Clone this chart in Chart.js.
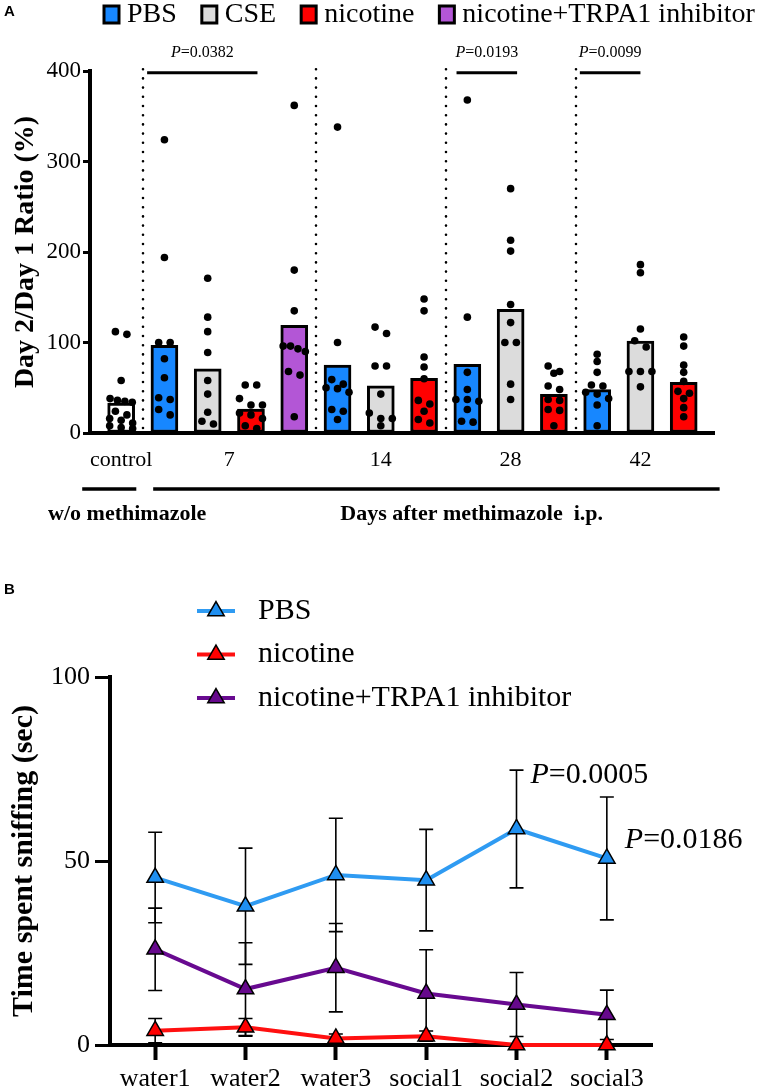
<!DOCTYPE html>
<html><head><meta charset="utf-8">
<script src="https://cdn.jsdelivr.net/npm/chart.js@4.4.1/dist/chart.umd.min.js"></script>
<style>
html,body{margin:0;padding:0;background:#fff;width:758px;height:1090px;overflow:hidden}
#a{position:absolute;left:0;top:0}
#b{position:absolute;left:0;top:555px}
</style></head><body>
<canvas id="a" width="758" height="550"></canvas>
<canvas id="b" width="758" height="535"></canvas>
<script>
// ---------------- Panel A data ----------------
const groupNames = ['control', '7', '14', '28', '42'];
const barGroups = ['control','7','7','7','7','14','14','14','28','28','28','42','42','42'];
const barTreatments = ['control','PBS','CSE','nicotine','nicotine+TRPA1 inhibitor','PBS','CSE','nicotine','PBS','CSE','nicotine','PBS','CSE','nicotine'];
const barMeans = [33, 97, 71, 26.5, 119, 75, 52, 60.4, 76, 136.6, 42.7, 48, 101.7, 56];
const legendA = ['PBS', 'CSE', 'nicotine', 'nicotine+TRPA1 inhibitor'];

const dotsControl = [112, 109, 58, 38, 36, 35, 34, 24, 20, 16, 14, 11, 8, 6, 5];
const dotsD7PBS   = [324, 194, 100, 100, 82, 61, 39, 37, 26, 20];
const dotsD7CSE   = [171, 128, 112, 89, 58, 43, 23, 13, 10];
const dotsD7Nic   = [53, 53, 38, 31, 31, 22, 20, 16, 8, 5];
const dotsD7Inh   = [362, 180, 135, 96, 96, 93, 90, 68, 64, 18];
const dotsD14PBS  = [338, 100, 59, 54, 50, 49, 45, 26, 24, 15];
const dotsD14CSE  = [117, 110, 74, 74, 43, 22, 16, 16, 8];
const dotsD14Nic  = [148, 135, 84, 73, 60, 36, 32, 24, 15, 11];
const dotsD28PBS  = [368, 128, 67, 48, 37, 37, 35, 26, 13, 12];
const dotsD28CSE  = [270, 213, 201, 142, 122, 100, 100, 54, 37];
const dotsD28Nic  = [74, 68, 66, 52, 48, 37, 36, 26, 25, 8];
const dotsD42PBS  = [87, 79, 67, 53, 52, 45, 43, 38, 31, 8];
const dotsD42CSE  = [186, 177, 115, 102, 95, 68, 68, 68, 51];
const dotsD42Nic  = [106, 96, 75, 67, 57, 46, 44, 38, 28, 18];
const yTicksA = [0, 100, 200, 300, 400];
const pValuesA = ['0.0382', '0.0193', '0.0099'];

// ---------------- Panel B data ----------------
const catsB = ['water1', 'water2', 'water3', 'social1', 'social2', 'social3'];
const seriesB = ['PBS', 'nicotine', 'nicotine+TRPA1 inhibitor'];
const pbsMean = [45.5, 37.7, 46.2, 44.8, 58.7, 50.7];
const pbsSem  = [12.3, 15.8, 15.4, 13.8, 16.0, 16.7];
const nicMean = [3.9, 4.8, 1.8, 2.4, 0, 0];
const nicSem  = [3.3, 2.4, 1.2, 1.4, 0, 0];
const inhMean = [26.0, 15.2, 21.0, 14.0, 11.0, 8.2];
const inhSem  = [11.2, 12.6, 12.0, 11.9, 8.7, 6.7];
const yTicksB = [0, 50, 100];
const pValuesB = [{cat: 'social2', p: '0.0005'}, {cat: 'social3', p: '0.0186'}];

// ---------------- styles / layout ----------------
const SERIF = '"Liberation Serif", "Times New Roman", serif';
const colA = {'control': '#ffffff', 'PBS': '#1787ff', 'CSE': '#dcdcdc', 'nicotine': '#ff0000', 'nicotine+TRPA1 inhibitor': '#b356d6'};
const colB = {'PBS': '#2f9bf2', 'nicotine': '#ff1010', 'nicotine+TRPA1 inhibitor': '#680a90'};
const fillB = {'PBS': '#1f8ff0', 'nicotine': '#ff0000', 'nicotine+TRPA1 inhibitor': '#66088c'};

const dotGroups = [dotsControl, dotsD7PBS, dotsD7CSE, dotsD7Nic, dotsD7Inh, dotsD14PBS, dotsD14CSE, dotsD14Nic,
                   dotsD28PBS, dotsD28CSE, dotsD28Nic, dotsD42PBS, dotsD42CSE, dotsD42Nic];

// Prism-like row scatter offsets (layout only)
const PX_PER_Y = 362 / 400, PX_PER_X = 43.3, DIAM = 7.6;
function swarm(vals, idx) {
  const sorted = vals.slice().sort((a, b) => b - a);
  const rows = [];
  sorted.forEach(v => {
    const r = rows[rows.length - 1];
    if (r && (r[0] - v) * PX_PER_Y < DIAM * 0.95) r.push(v); else rows.push([v]);
  });
  const out = [];
  rows.forEach(r => {
    const sp = r.length >= 4 ? 7.4 : 11.5;
    r.forEach((v, k) => {
      const off = (k - (r.length - 1) / 2) * sp * (k % 2 ? 1 : 1);
      out.push({x: idx + off / PX_PER_X, y: v});
    });
  });
  return out;
}
const dotData = [];
dotGroups.forEach((g, i) => dotData.push(...swarm(g, i)));

const groupCenters = groupNames.map(g => {
  const idx = barGroups.map((b, i) => b === g ? i : null).filter(v => v !== null);
  return idx.reduce((a, b) => a + b, 0) / idx.length;
});
const separators = [];
for (let i = 1; i < barGroups.length; i++) if (barGroups[i] !== barGroups[i - 1]) separators.push(i - 0.5);
const bracketSpans = [[0.6, 3.15], [7.75, 9.15], [10.6, 12.0]];

function drawPText(ctx, x, y, p, size, align) {
  ctx.textBaseline = 'middle';
  ctx.font = 'italic ' + size + 'px ' + SERIF;
  const w1 = ctx.measureText('P').width;
  ctx.font = size + 'px ' + SERIF;
  const w2 = ctx.measureText('=' + p).width;
  const x0 = align === 'center' ? x - (w1 + w2) / 2 : x;
  ctx.textAlign = 'left';
  ctx.font = 'italic ' + size + 'px ' + SERIF;
  ctx.fillText('P', x0, y);
  ctx.font = size + 'px ' + SERIF;
  ctx.fillText('=' + p, x0 + w1, y);
}

const overlayA = {
  id: 'overlayA',
  beforeDatasetsDraw(chart) {
    const {ctx, chartArea: ca, scales: {x}} = chart;
    ctx.save();
    ctx.strokeStyle = '#000'; ctx.lineWidth = 2.6; ctx.lineCap = 'round';
    ctx.setLineDash([0, 9.2]);
    separators.forEach(s => {
      const px = Math.round(x.getPixelForValue(s));
      ctx.beginPath(); ctx.moveTo(px, ca.bottom - 5); ctx.lineTo(px, ca.top - 2); ctx.stroke();
    });
    ctx.restore();
  },
  afterDraw(chart) {
    const {ctx, chartArea: ca, scales: {x, y}} = chart;
    ctx.save();
    ctx.fillStyle = '#000';
    ctx.font = 'bold 15px "Liberation Sans", Arial, sans-serif';
    ctx.textBaseline = 'middle'; ctx.textAlign = 'left';
    ctx.fillText('A', 4, 12);
    // legend
    let lx = 104;
    legendA.forEach(name => {
      ctx.fillStyle = colA[name];
      ctx.fillRect(lx, 6, 15, 17);
      ctx.lineWidth = 3; ctx.strokeStyle = '#000';
      ctx.strokeRect(lx, 6, 15, 17);
      ctx.fillStyle = '#000';
      ctx.font = '28px ' + SERIF; ctx.textBaseline = 'middle'; ctx.textAlign = 'left';
      ctx.fillText(name, lx + 23, 15);
      lx += 23 + ctx.measureText(name).width + 25;
    });
    // significance brackets
    const ly = y.getPixelForValue(398);
    bracketSpans.forEach((s, i) => {
      const x1 = x.getPixelForValue(s[0]), x2 = x.getPixelForValue(s[1]);
      ctx.lineWidth = 3; ctx.strokeStyle = '#000';
      ctx.beginPath(); ctx.moveTo(x1, ly); ctx.lineTo(x2, ly); ctx.stroke();
      drawPText(ctx, (x1 + x2) / 2, ly - 20, pValuesA[i], 16, 'center');
    });
    // lines under axis
    const uy = ca.bottom + 56;
    ctx.lineWidth = 3.5;
    ctx.beginPath(); ctx.moveTo(x.getPixelForValue(-0.9), uy); ctx.lineTo(x.getPixelForValue(0.35), uy); ctx.stroke();
    ctx.beginPath(); ctx.moveTo(x.getPixelForValue(0.74), uy); ctx.lineTo(x.getPixelForValue(13.83), uy); ctx.stroke();
    ctx.font = 'bold 22px ' + SERIF; ctx.textAlign = 'center'; ctx.textBaseline = 'middle';
    ctx.fillText('w/o methimazole', x.getPixelForValue(0.14), ca.bottom + 81);
    ctx.fillText('Days after methimazole  i.p.', x.getPixelForValue(8.1), ca.bottom + 81);
    ctx.restore();
  }
};

new Chart(document.getElementById('a'), {
  type: 'bar',
  data: {
    datasets: [
      {
        type: 'scatter',
        data: dotData,
        pointRadius: 3.8, pointHoverRadius: 3.8,
        backgroundColor: '#000', borderWidth: 0,
        clip: false, order: 0
      },
      {
        data: barMeans.map((v, i) => ({x: i, y: v})),
        backgroundColor: barTreatments.map(t => colA[t]),
        borderColor: '#000', borderWidth: 3, borderSkipped: false,
        barThickness: 27, order: 1
      }
    ]
  },
  options: {
    responsive: false, animation: false, events: [],
    layout: {padding: {top: 71, left: 0, right: 44, bottom: 67}},
    plugins: {legend: {display: false}, tooltip: {enabled: false}},
    scales: {
      x: {
        type: 'linear', min: -0.72, max: 13.7, z: 1, offset: false,
        grid: {display: false, drawTicks: false, offset: false},
        border: {display: true, width: 4, color: '#000'},
        afterBuildTicks: s => { s.ticks = groupCenters.map(v => ({value: v})); },
        afterFit: s => { s.height = 50; },
        ticks: {
          autoSkip: false, maxRotation: 0, padding: 14, color: '#000',
          font: {family: SERIF, size: 22},
          callback: (v, i) => groupNames[i]
        }
      },
      y: {
        min: 0, max: 400, z: 1,
        grid: {display: true, drawOnChartArea: false, drawTicks: true, tickLength: 7, tickWidth: 3, color: '#000'},
        border: {display: true, width: 4, color: '#000'},
        afterBuildTicks: s => { s.ticks = yTicksA.map(v => ({value: v})); },
        afterFit: s => { s.width = 90; },
        ticks: {padding: 2, color: '#000', font: {family: SERIF, size: 23}},
        title: {display: true, text: 'Day 2/Day 1 Ratio (%)', color: '#000', padding: {top: 9, bottom: 0},
                font: {family: SERIF, size: 28, weight: 'bold'}}
      }
    }
  },
  plugins: [overlayA]
});

// ---------------- Panel B ----------------
const semByLabel = {'PBS': pbsSem, 'nicotine': nicSem, 'nicotine+TRPA1 inhibitor': inhSem};
const overlayB = {
  id: 'overlayB',
  beforeDatasetsDraw(chart) {
    const {ctx, scales: {x, y}} = chart;
    ctx.save();
    ctx.strokeStyle = '#000'; ctx.lineWidth = 1.6;
    chart.data.datasets.forEach(ds => {
      const sem = semByLabel[ds.label];
      ds.data.forEach((m, i) => {
        if (!sem[i]) return;
        const px = x.getPixelForValue(i);
        const y1 = y.getPixelForValue(m + sem[i]), y2 = y.getPixelForValue(Math.max(0, m - sem[i]));
        ctx.beginPath();
        ctx.moveTo(px, y1); ctx.lineTo(px, y2);
        ctx.moveTo(px - 7, y1); ctx.lineTo(px + 7, y1);
        ctx.moveTo(px - 7, y2); ctx.lineTo(px + 7, y2);
        ctx.stroke();
      });
    });
    ctx.restore();
  },
  afterDraw(chart) {
    const {ctx, scales: {x, y}} = chart;
    ctx.save();
    ctx.fillStyle = '#000';
    ctx.font = 'bold 15px "Liberation Sans", Arial, sans-serif';
    ctx.textBaseline = 'middle'; ctx.textAlign = 'left';
    ctx.fillText('B', 4, 35);
    // legend
    chart.data.datasets.forEach((ds, i) => {
      const cy = 56 + i * 43.5;
      ctx.strokeStyle = ds.borderColor; ctx.lineWidth = 4;
      ctx.beginPath(); ctx.moveTo(197, cy); ctx.lineTo(235, cy); ctx.stroke();
      ctx.fillStyle = ds.pointBackgroundColor; ctx.strokeStyle = '#000'; ctx.lineWidth = 1.5;
      ctx.beginPath();
      const r = 9.5;
      for (let k = 0; k < 3; k++) {
        const a = k * 2 * Math.PI / 3;
        const px = 216 + Math.sin(a) * r, py = cy - Math.cos(a) * r;
        k === 0 ? ctx.moveTo(px, py) : ctx.lineTo(px, py);
      }
      ctx.closePath(); ctx.fill(); ctx.stroke();
      ctx.fillStyle = '#000';
      ctx.font = '30px ' + SERIF; ctx.textBaseline = 'middle'; ctx.textAlign = 'left';
      ctx.fillText(ds.label, 258, cy);
    });
    // P values
    const offs = {'social2': [14, 73.4], 'social3': [18, 55.7]};
    pValuesB.forEach(pv => {
      const i = catsB.indexOf(pv.cat);
      drawPText(ctx, x.getPixelForValue(i) + offs[pv.cat][0], y.getPixelForValue(offs[pv.cat][1]), pv.p, 30, 'left');
    });
    ctx.restore();
  }
};

const meansB = {'PBS': pbsMean, 'nicotine': nicMean, 'nicotine+TRPA1 inhibitor': inhMean};
new Chart(document.getElementById('b'), {
  type: 'line',
  data: {
    labels: catsB,
    datasets: seriesB.map(s => ({
      label: s,
      data: meansB[s],
      borderColor: colB[s], borderWidth: 4,
      pointStyle: 'triangle', pointRadius: 9.5, pointHoverRadius: 9.5,
      pointBackgroundColor: fillB[s], pointBorderColor: '#000', pointBorderWidth: 1.5,
      tension: 0, clip: false, fill: false
    }))
  },
  options: {
    responsive: false, animation: false, events: [],
    layout: {padding: {top: 122, left: 0, right: 106, bottom: 0}},
    plugins: {legend: {display: false}, tooltip: {enabled: false}},
    scales: {
      x: {
        offset: true,
        grid: {display: true, drawOnChartArea: false, drawTicks: true, tickLength: 15, tickWidth: 4, color: '#000', offset: false},
        border: {display: true, width: 4, color: '#000'},
        afterFit: s => { s.height = 45; },
        ticks: {autoSkip: false, maxRotation: 0, padding: 4, color: '#000', font: {family: SERIF, size: 26}}
      },
      y: {
        min: 0, max: 100,
        grid: {display: true, drawOnChartArea: false, drawTicks: true, tickLength: 15, tickWidth: 3, color: '#000'},
        border: {display: true, width: 4, color: '#000'},
        afterBuildTicks: s => { s.ticks = yTicksB.map(v => ({value: v})); },
        afterFit: s => { s.width = 110; },
        ticks: {padding: 5, color: '#000', font: {family: SERIF, size: 26}},
        title: {display: true, text: 'Time spent sniffing (sec)', color: '#000', padding: {top: 6, bottom: 0},
                font: {family: SERIF, size: 30, weight: 'bold'}}
      }
    }
  },
  plugins: [overlayB]
});
</script>
</body></html>
